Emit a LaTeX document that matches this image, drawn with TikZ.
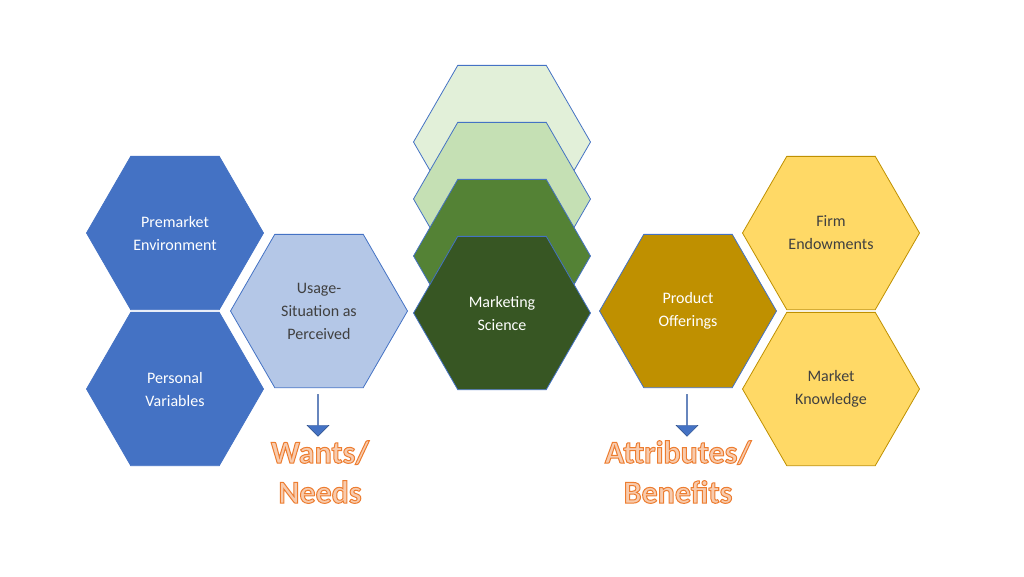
\documentclass[tikz,border=0pt]{standalone}
\usepackage{fontspec}
\setmainfont{Carlito}
\usetikzlibrary{shapes.geometric,shapes.arrows}
\definecolor{bl}{HTML}{4472C4}
\definecolor{lbl}{HTML}{B4C7E7}
\definecolor{g1}{HTML}{E2F0D9}
\definecolor{g2}{HTML}{C5E0B4}
\definecolor{g3}{HTML}{548235}
\definecolor{g4}{HTML}{375623}
\definecolor{gold}{HTML}{BF9000}
\definecolor{yel}{HTML}{FFD966}
\definecolor{lorg}{HTML}{F8CBAD}
\definecolor{txt}{HTML}{404040}
\newcommand{\outl}{\special{pdf:literal direct 2 Tr 1 w 0.93 0.49 0.19 RG}}
\newcommand{\outoff}{\special{pdf:literal direct 0 Tr}}
\begin{document}
\begin{tikzpicture}[x=1pt,y=-1pt,
 hexa/.style={regular polygon,regular polygon sides=6,minimum size=177pt,inner sep=0pt,draw=#1,line width=0.8pt,align=center,font=\fontsize{16}{23}\selectfont},
 big/.style={font=\bfseries\fontsize{32}{40}\selectfont,align=center,text=lorg},
 arr/.style={single arrow,draw=bl!70!black,fill=bl,shape border rotate=270,minimum width=22pt,single arrow head extend=4pt,minimum height=42pt,inner sep=0pt}]
\useasboundingbox (0,0) rectangle (1024,576);
\node[hexa=bl,fill=bl,text=white] (pe) at (175,233) {Premarket\\Environment};
\node[hexa=bl,fill=bl,text=white] (pv) at (175,389) {Personal\\Variables};
\node[hexa=bl,fill=lbl,text=txt] (us) at (319,311) {Usage-\\Situation as\\Perceived};
\node[hexa=bl,fill=g1] (m1) at (502,142) {};
\node[hexa=bl,fill=g2] (m2) at (502,199) {};
\node[hexa=bl,fill=g3] (m3) at (502,256) {};
\node[hexa=bl,fill=g4,text=white] (ms) at (502,313) {Marketing\\Science};
\node[hexa=bl,fill=gold,text=white] (po) at (688,311) {Product\\Offerings};
\node[hexa=gold,fill=yel,text=txt] (fe) at (831,233) {Firm\\Endowments};
\node[hexa=gold,fill=yel,text=txt] (mk) at (831,389) {Market\\Knowledge};
\node[arr] (a1) at (318,415) {};
\node[arr] (a2) at (687,415) {};
\node[big] (wn) at (320,472) {\outl Wants/\\\outl Needs\outoff};
\node[big] (ab) at (678,472) {\outl Attributes/\\\outl Benefits\outoff};
\end{tikzpicture}
\end{document}
